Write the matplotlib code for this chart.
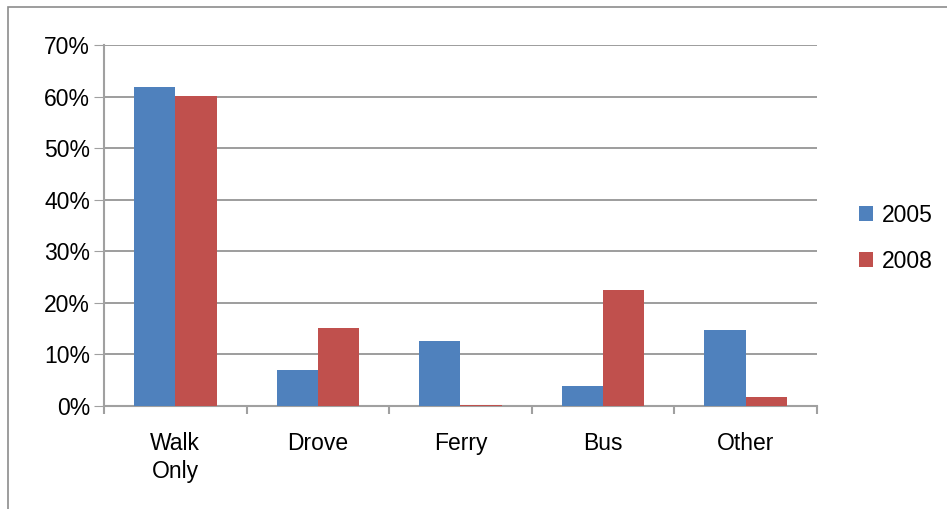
import matplotlib.pyplot as plt
import numpy as np
from matplotlib.patches import Rectangle

plt.rcParams['font.family'] = ['Liberation Sans', 'DejaVu Sans']

categories = ['Walk\nOnly', 'Drove', 'Ferry', 'Bus', 'Other']
y2005 = [61.8, 7.0, 12.6, 3.9, 14.7]
y2008 = [60.1, 15.1, 0.2, 22.5, 1.7]

blue = '#4f81bd'
red = '#c0504d'
gray = '#a0a0a0'
fs = 16.5

fig = plt.figure(figsize=(9.47, 5.09), dpi=100)
ax = fig.add_axes([0.1098, 0.2024, 0.7529, 0.7092])

x = np.arange(len(categories))
w = 0.29
ax.bar(x - w / 2, y2005, w, color=blue, label='2005', zorder=3)
ax.bar(x + w / 2, y2008, w, color=red, label='2008', zorder=3)

ax.set_xlim(-0.5, len(categories) - 0.5)
ax.set_ylim(0, 70)
ax.set_yticks(np.arange(0, 71, 10))
ax.set_yticklabels([f'{v}%' for v in range(0, 71, 10)], fontsize=fs)
ax.yaxis.grid(True, color='#8c8c8c', linewidth=1.2, zorder=0)
ax.tick_params(axis='y', length=7, color=gray, pad=3)

ax.set_xticks(np.arange(-0.5, len(categories)), minor=False)
ax.set_xticklabels([])
ax.set_xticks(x, minor=True)
ax.set_xticklabels(categories, minor=True, fontsize=fs, linespacing=1.25)
ax.tick_params(axis='x', which='major', length=6, color=gray, width=1.5)
ax.tick_params(axis='x', which='minor', length=0, pad=19)

for s in ['top', 'right']:
    ax.spines[s].set_visible(False)
ax.spines['left'].set_color(gray)
ax.spines['left'].set_linewidth(1.5)
ax.spines['bottom'].set_color(gray)
ax.spines['bottom'].set_linewidth(1.5)

ax.legend(loc='center left', bbox_to_anchor=(1.03, 0.465), frameon=False,
          fontsize=fs, handlelength=0.6, handleheight=0.6,
          handletextpad=0.4, labelspacing=1.0)

fig.patches.append(Rectangle((0.0085, -0.01), 1.0, 0.996, transform=fig.transFigure,
                             fill=False, edgecolor='#8c8c8c', linewidth=1.2))

fig.savefig('out.png', dpi=100)
